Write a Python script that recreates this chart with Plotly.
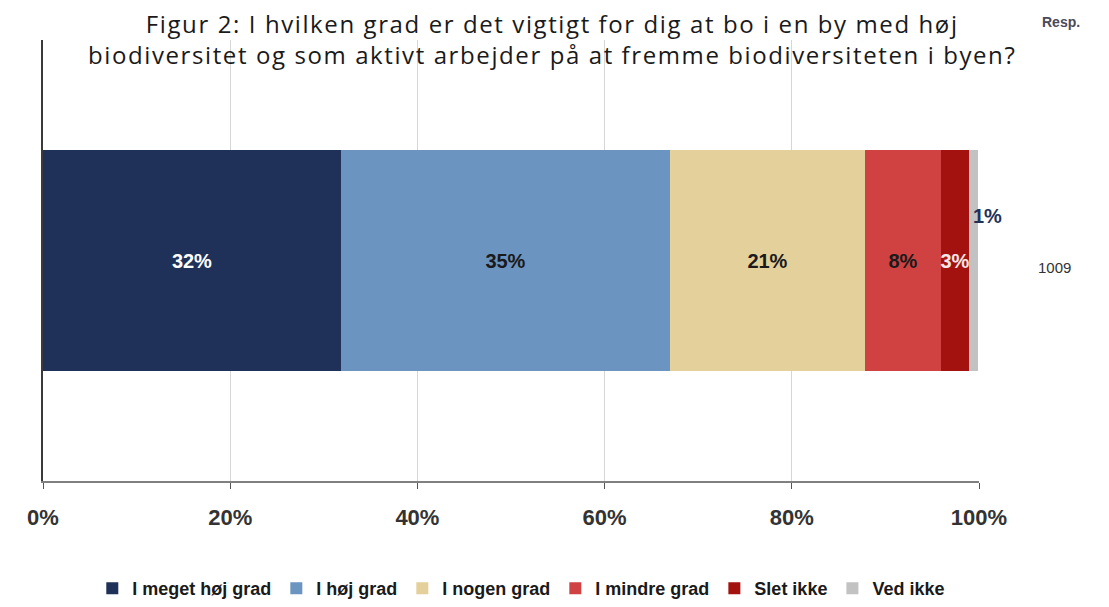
import plotly.graph_objects as go

categories = ["I meget høj grad", "I høj grad", "I nogen grad", "I mindre grad", "Slet ikke", "Ved ikke"]
values = [31.8, 35.2, 20.8, 8.1, 3.0, 1.0]
labels = ["32%", "35%", "21%", "8%", "3%", "1%"]
colors = ["#1F3159", "#6C94C0", "#E4D09B", "#D04242", "#A3120F", "#C2C2C2"]
text_colors = ["#FFFFFF", "#1A1A1A", "#1A1A1A", "#1A1A1A", "#F4E6E6", "#1F3159"]
respondents = "1009"
tick_vals = [0, 20, 40, 60, 80, 100]
tick_text = ["0%", "20%", "40%", "60%", "80%", "100%"]
title_lines = ["Figur 2: I hvilken grad er det vigtigt for dig at bo i en by med høj",
               "biodiversitet og som aktivt arbejder på at fremme biodiversiteten i byen?"]

fig = go.Figure()
for i, (cat, v, lab) in enumerate(zip(categories, values, labels)):
    inside = i < len(categories) - 1
    fig.add_trace(go.Bar(
        x=[v], y=[0], orientation="h", name=cat,
        marker=dict(color=colors[i], line=dict(width=0)),
        width=1.0,
        text=[lab] if inside else None,
        textposition="inside" if inside else "none",
        insidetextanchor="middle",
        constraintext="none",
        textangle=0,
        textfont=dict(family="Liberation Sans", size=20, color=text_colors[i], weight="bold"),
        hoverinfo="skip",
    ))

# outside label for the last small segment
cum = sum(values)
fig.add_annotation(x=cum, y=0.2, xref="x", yref="y", text=labels[-1], showarrow=False,
                   xanchor="left", xshift=-7,
                   font=dict(family="Liberation Sans", size=20, color=text_colors[-1], weight="bold"))

fig.add_annotation(x=1.081, y=0.485, xref="paper", yref="paper", text=respondents, showarrow=False,
                   xanchor="center", yanchor="middle",
                   font=dict(family="Liberation Sans", size=15, color="#333333"))
fig.add_annotation(x=1.088, y=1.041, xref="paper", yref="paper", text="Resp.", showarrow=False,
                   xanchor="center", yanchor="middle",
                   font=dict(family="Liberation Sans", size=14, color="#4A4A5A", weight="bold"))

title_html = "<br>".join('<span style="letter-spacing:1.6px">%s</span>' % t for t in title_lines)
fig.add_annotation(x=0.544, y=1.003, xref="paper", yref="paper", text=title_html, showarrow=False,
                   xanchor="center", yanchor="middle", align="center",
                   font=dict(family="Open Sans", size=24, color="#1A1A1A"))

fig.update_layout(
    barmode="stack",
    width=1109, height=607,
    margin=dict(l=43, r=130, t=40, b=126),
    paper_bgcolor="white", plot_bgcolor="white",
    xaxis=dict(
        range=[0, 100], tickvals=tick_vals, ticktext=tick_text,
        showgrid=True, gridcolor="#D6D6D6", gridwidth=1,
        showline=True, linecolor="#808080", linewidth=2,
        ticks="outside", ticklen=6, tickcolor="#555555", tickwidth=1,
        ticklabelstandoff=10,
        tickfont=dict(family="Liberation Sans", size=22, color="#333333", weight="bold"),
        zeroline=False, fixedrange=True, automargin=False,
    ),
    yaxis=dict(
        range=[-1, 1], showticklabels=False, showgrid=False, zeroline=False,
        showline=True, linecolor="#3A3A3A", linewidth=2, ticks="", automargin=False,
        fixedrange=True,
    ),
    showlegend=True,
    legend=dict(
        orientation="h", x=0.511, xanchor="center",
        yref="container", y=-0.017, yanchor="bottom",
        font=dict(family="Liberation Sans", size=18, color="#1A1A1A", weight="bold"),
        itemwidth=30, tracegroupgap=0, traceorder="normal",
    ),
    bargap=0,
)

fig.write_html("out.html",
               config={"displayModeBar": False},
               post_script="document.body.style.margin='0';document.body.style.overflow='hidden';")
